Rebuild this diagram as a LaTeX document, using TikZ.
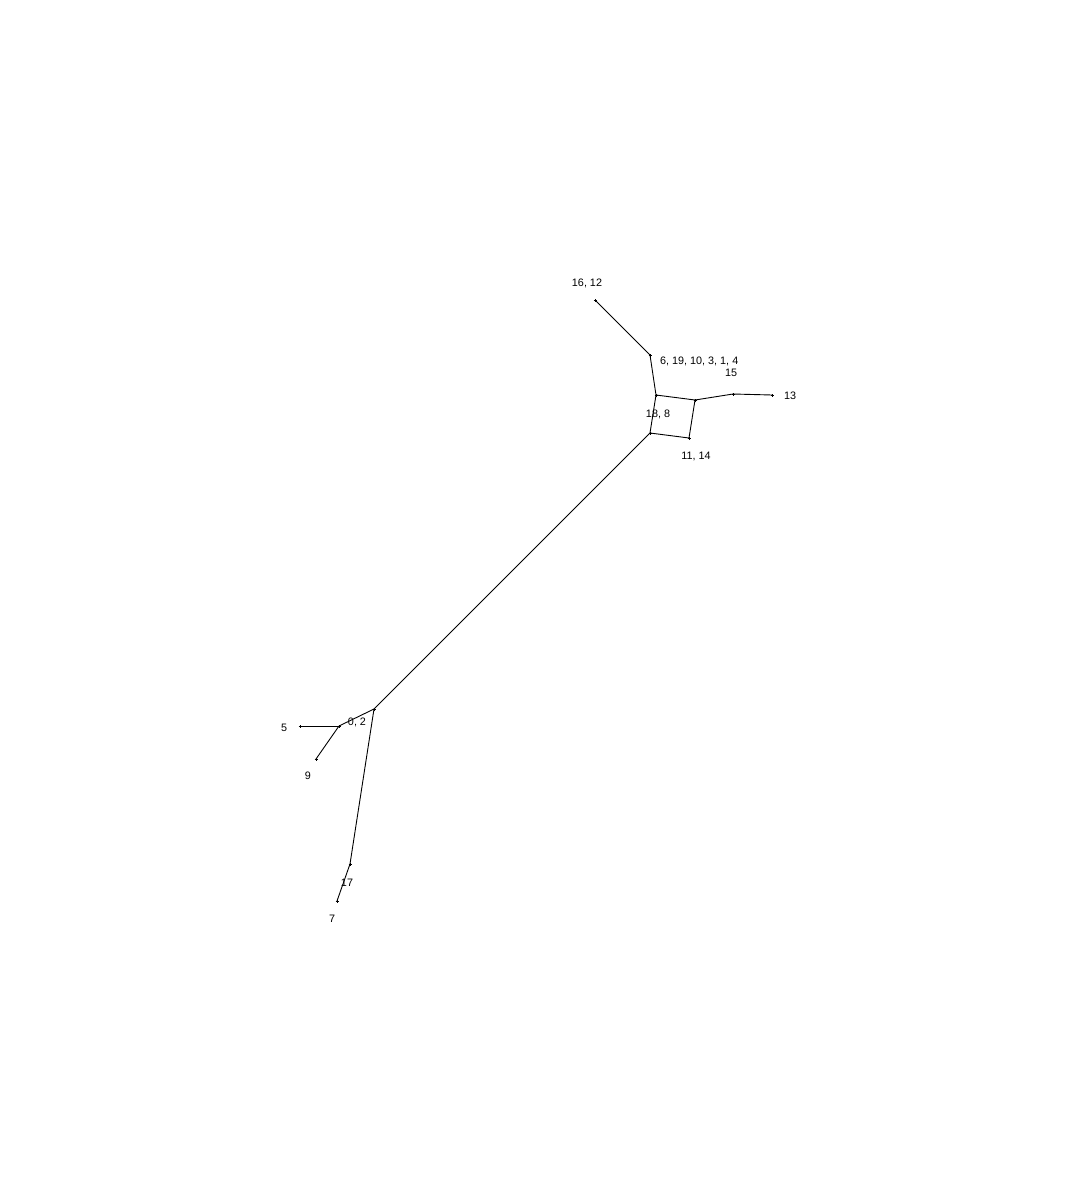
\documentclass[tikz,border=0pt]{standalone}
\usepackage{fontspec}
\setmainfont{Liberation Sans}
\begin{document}
\begin{tikzpicture}[x=1pt,y=-1pt,
  edge/.style={line width=0.9pt,black},
  lbl/.style={font=\fontsize{10.8}{12}\selectfont,inner sep=0pt},
  pt/.style={inner sep=0pt,minimum size=0pt}]
\useasboundingbox[fill=white] (0,0) rectangle (1072,1200);
\coordinate (n1612) at (595,300);
\coordinate (A) at (650,355);
\coordinate (B) at (656,395);
\coordinate (C) at (695,400);
\coordinate (D) at (733,394);
\coordinate (n13) at (772,395);
\coordinate (E) at (650,433);
\coordinate (F) at (689,438);
\coordinate (H) at (374,709);
\coordinate (G) at (339,726);
\coordinate (n5) at (300,726);
\coordinate (n9) at (316,759);
\coordinate (n17) at (350,864);
\coordinate (n7) at (337,901);
\draw[edge] (n1612) -- (A);
\draw[edge] (A) -- (B);
\draw[edge] (B) -- (C);
\draw[edge] (C) -- (D);
\draw[edge] (D) -- (n13);
\draw[edge] (B) -- (E);
\draw[edge] (C) -- (F);
\draw[edge] (E) -- (F);
\draw[edge] (E) -- (H);
\draw[edge] (H) -- (G);
\draw[edge] (G) -- (n5);
\draw[edge] (G) -- (n9);
\draw[edge] (H) -- (n17);
\draw[edge] (n17) -- (n7);
\foreach \p in {n1612,A,B,C,D,n13,E,F,H,G,n5,n9,n17,n7}{
  \draw[line width=0.8pt] ([xshift=-1.5pt]\p) -- ([xshift=1.5pt]\p);
  \draw[line width=0.8pt] ([yshift=-1.5pt]\p) -- ([yshift=1.5pt]\p);
}
\node[lbl] (l1612) at (587,283) {16, 12};
\node[lbl,anchor=west] (lA) at (660,361) {6, 19, 10, 3, 1, 4};
\node[lbl] (l15) at (731,373) {15};
\node[lbl] (l13) at (790,396) {13};
\node[lbl] (lE) at (658,414) {18, 8};
\node[lbl] (lF) at (696,456) {11, 14};
\node[lbl] (lG) at (357,722) {0, 2};
\node[lbl] (l5) at (284,728) {5};
\node[lbl] (l9) at (308,776) {9};
\node[lbl] (l17) at (347,883) {17};
\node[lbl] (l7) at (332,919) {7};
\end{tikzpicture}
\end{document}
